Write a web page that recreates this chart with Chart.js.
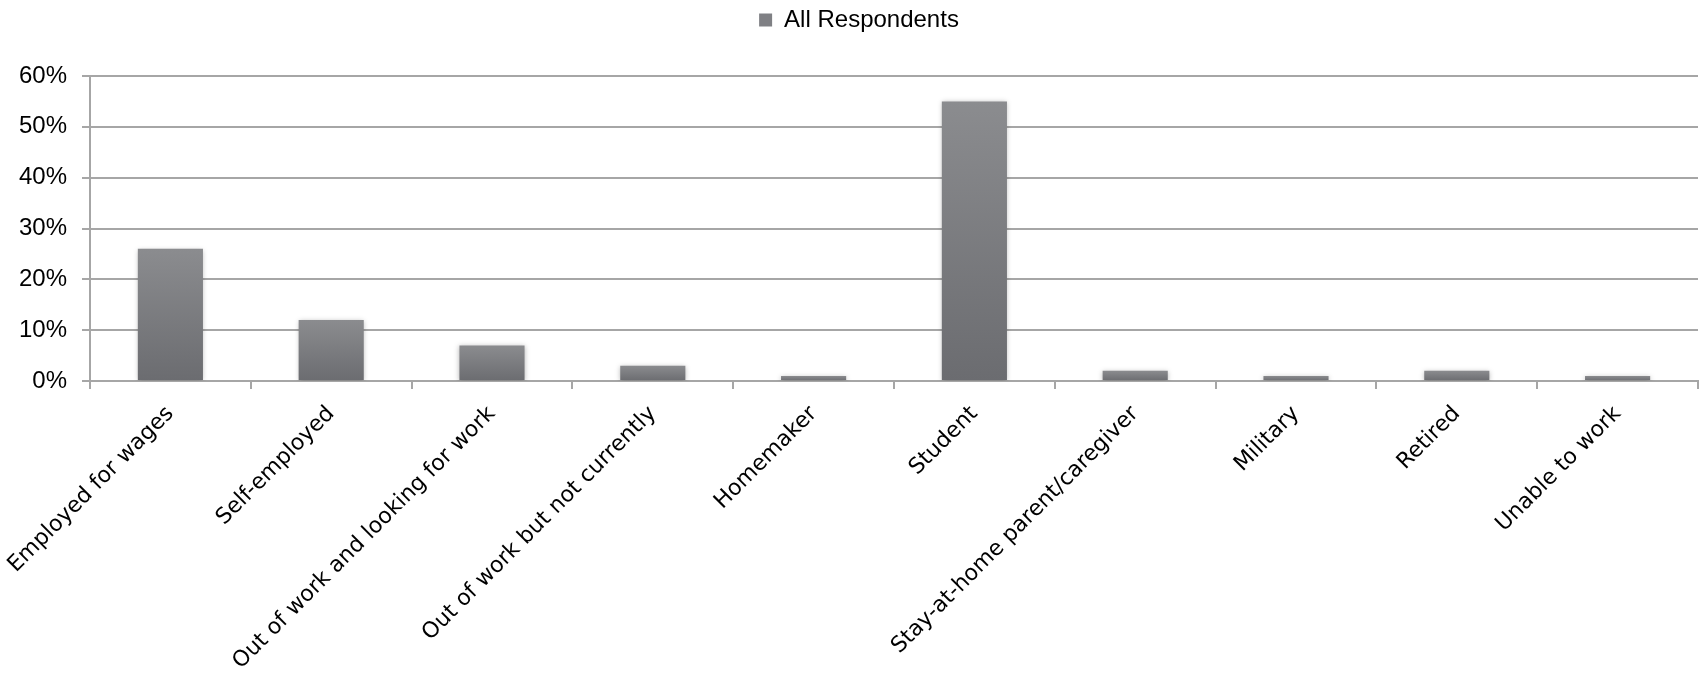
<!DOCTYPE html>
<html>
<head>
<meta charset="utf-8">
<script src="https://cdn.jsdelivr.net/npm/chart.js@4/dist/chart.umd.min.js"></script>
<style>
  html, body { margin: 0; padding: 0; background: #fff; }
  #wrap { width: 1703px; height: 673px; position: relative; }
</style>
</head>
<body>
<div id="wrap"><canvas id="c" width="1703" height="673"></canvas></div>
<script>
const categories = [
  "Employed for wages",
  "Self-employed",
  "Out of work and looking for work",
  "Out of work but not currently",
  "Homemaker",
  "Student",
  "Stay-at-home parent/caregiver",
  "Military",
  "Retired",
  "Unable to work"
];
const allRespondents = [26, 12, 7, 3, 1, 55, 2, 1, 2, 1];
const seriesName = "All Respondents";
const yTicks = [0, 10, 20, 30, 40, 50, 60];

const GRID = '#a6a6a6';

const shadowPlugin = {
  id: 'barShadow',
  beforeDatasetsDraw(chart) {
    const c = chart.ctx;
    c.save();
    c.shadowColor = 'rgba(0,0,0,0.28)';
    c.shadowBlur = 5;
    c.shadowOffsetX = 0;
    c.shadowOffsetY = 1;
  },
  afterDatasetsDraw(chart) {
    chart.ctx.restore();
  }
};

const legendTweak = {
  id: 'legendTweak',
  afterInit(chart) {
    const lg = chart.legend;
    if (lg && !lg._patched) {
      const orig = lg.fit;
      lg.fit = function () { orig.call(this); this.height = 76; };
      lg._patched = true;
    }
  },
  afterLayout(chart) {
    const lg = chart.legend;
    if (lg) { lg.left += 10; lg.right += 10; }
  }
};

new Chart(document.getElementById('c'), {
  type: 'bar',
  data: {
    labels: categories,
    datasets: [{
      label: seriesName,
      data: allRespondents,
      borderWidth: 0,
      categoryPercentage: 1.0,
      barPercentage: 0.405,
      backgroundColor: (ctx) => {
        const chart = ctx.chart;
        const area = chart.chartArea;
        if (!area || ctx.type !== 'data' || !chart.scales.y) return '#7d7e82';
        const y0 = chart.scales.y.getPixelForValue(0);
        const y1 = chart.scales.y.getPixelForValue(ctx.raw);
        const g = chart.ctx.createLinearGradient(0, y1, 0, y0);
        g.addColorStop(0, '#8b8c8f');
        g.addColorStop(1, '#6b6c70');
        return g;
      }
    }]
  },
  options: {
    responsive: false,
    animation: false,
    layout: { padding: { left: 0, right: 5, top: 0, bottom: 0 } },
    plugins: {
      legend: {
        display: true,
        position: 'top',
        labels: {
          boxWidth: 13,
          boxHeight: 13,
          padding: 8,
          color: '#000',
          font: { family: 'Liberation Sans, Arial, sans-serif', size: 24 },
          generateLabels(chart) {
            return [{
              text: seriesName,
              fillStyle: '#7f8084',
              strokeStyle: '#7f8084',
              lineWidth: 0,
              hidden: false,
              datasetIndex: 0
            }];
          }
        }
      },
      tooltip: { enabled: false }
    },
    scales: {
      x: {
        offset: true,
        grid: {
          offset: true,
          drawOnChartArea: false,
          drawTicks: true,
          tickLength: 8,
          color: GRID,
          lineWidth: 2
        },
        border: { color: GRID, width: 2 },
        ticks: {
          autoSkip: false,
          minRotation: 45,
          maxRotation: 45,
          padding: 12,
          color: '#000',
          font: { family: 'DejaVu Sans, Verdana, sans-serif', size: 22 }
        },
        afterFit(scale) {
          scale.height = 292;
          scale.paddingLeft = 0;
          scale.paddingRight = 0;
        }
      },
      y: {
        min: 0,
        max: 60,
        afterBuildTicks(scale) { scale.ticks = yTicks.map(v => ({ value: v })); },
        grid: {
          color: GRID,
          lineWidth: 2,
          tickLength: 8,
          drawTicks: true
        },
        border: { color: GRID, width: 2 },
        ticks: {
          padding: 15,
          color: '#000',
          font: { family: 'Liberation Sans, Arial, sans-serif', size: 24 },
          callback: (v) => v + '%'
        },
        afterFit(scale) { scale.width = 90; }
      }
    }
  },
  plugins: [shadowPlugin, legendTweak]
});
</script>
</body>
</html>
